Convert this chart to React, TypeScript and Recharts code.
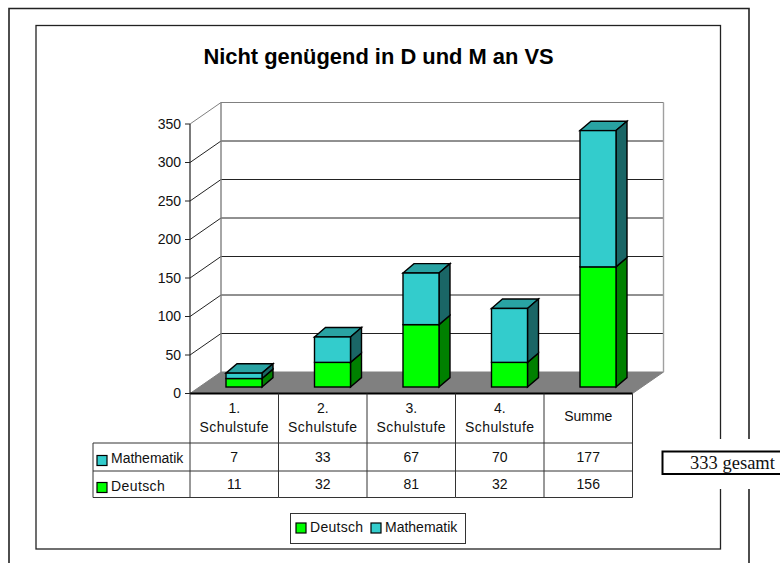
import React from "react";
import { BarChart, Bar, XAxis, YAxis, CartesianGrid, Legend } from "recharts";

const categories = ["1.|Schulstufe", "2.|Schulstufe", "3.|Schulstufe", "4.|Schulstufe", "Summe"];
const deutsch = [11, 32, 81, 32, 156];
const mathematik = [7, 33, 67, 70, 177];
const yTicks = [0, 50, 100, 150, 200, 250, 300, 350];
const title = "Nicht genügend in D und M an VS";
const note = "333 gesamt";

const data = categories.map((c, i) => ({ cat: c, Deutsch: deutsch[i], Mathematik: mathematik[i] }));

const FONT = "'Liberation Sans', Arial, sans-serif";
const GREEN = "#00FF00";
const CYAN = "#33CCCC";
const TABLE = "#333333";
const TOP = 124;
const BOTTOM = 393.5;
const LEFT = 190;
const RIGHT = 632.5;
const DX = 31;
const DY = 21.5;

function GridLine(props: any) {
  const { x1, x2, y1 } = props;
  const isTop = y1 <= TOP + 1;
  const isBottom = y1 >= BOTTOM - 1;
  const c = isTop ? "#808080" : "#222222";
  return (
    <g key={props.key}>
      {isBottom && (
        <polygon
          points={`${x1},${y1} ${x1 + DX},${y1 - DY} ${x2 + DX},${y1 - DY} ${x2},${y1}`}
          fill="#808080"
          stroke="#808080"
        />
      )}
      {isTop && (
        <>
          <line x1={x1 + DX} x2={x1 + DX} y1={y1 - DY} y2={BOTTOM - DY} stroke="#808080" strokeWidth={1.4} />
          <line x1={x2 + DX} x2={x2 + DX} y1={y1 - DY} y2={BOTTOM - DY} stroke="#a0a0a0" strokeWidth={1.4} />
        </>
      )}
      {!isBottom && (
        <>
          <line x1={x1} y1={y1} x2={x1 + DX} y2={y1 - DY} stroke={c} strokeWidth={1} />
          <line x1={x1 + DX} y1={y1 - DY} x2={x2 + DX} y2={y1 - DY} stroke={c} strokeWidth={1} />
        </>
      )}
    </g>
  );
}

function Bar3D(props: any) {
  const { x, y, width, height, fill, side, top } = props;
  const sx = 10;
  const sy = -6.5;
  const dx = 11;
  const dy = 9.4;
  const l = x + sx;
  const t = y + sy;
  const r = l + width;
  const b = t + height;
  const sw = 1.4;
  return (
    <g stroke="#000" strokeWidth={sw} strokeLinejoin="miter">
      {top && <polygon points={`${l},${t} ${l + dx},${t - dy} ${r + dx},${t - dy} ${r},${t}`} fill={top} />}
      <polygon points={`${r},${t} ${r + dx},${t - dy} ${r + dx},${b - dy} ${r},${b}`} fill={side} />
      <rect x={l} y={t} width={width} height={height} fill={fill} />
    </g>
  );
}

function TableTick(props: any) {
  const { x, payload, index } = props;
  const half = 44.25;
  const lines = String(payload.value).split("|");
  const y0 = BOTTOM;
  const rows = [y0 + 49.5, y0 + 77.5, y0 + 104];
  const txt = { fontFamily: FONT, fontSize: 14, fill: "#111" };
  return (
    <g>
      <line x1={x + half} x2={x + half} y1={y0} y2={rows[2]} stroke={TABLE} />
      {rows.map((ry) => (
        <line key={ry} x1={x - half} x2={x + half} y1={ry} y2={ry} stroke={TABLE} />
      ))}
      {lines.length === 2 ? (
        <>
          <text x={x} y={y0 + 19.5} textAnchor="middle" {...txt}>{lines[0]}</text>
          <text x={x} y={y0 + 38.5} textAnchor="middle" letterSpacing={0.4} {...txt}>{lines[1]}</text>
        </>
      ) : (
        <text x={x} y={y0 + 27.5} textAnchor="middle" {...txt}>{lines[0]}</text>
      )}
      <text x={x} y={y0 + 68.5} textAnchor="middle" {...txt}>{mathematik[index]}</text>
      <text x={x} y={y0 + 95.5} textAnchor="middle" {...txt}>{deutsch[index]}</text>
      {index === 0 && (
        <g>
          <line x1={x - half} x2={x - half} y1={y0} y2={rows[2]} stroke={TABLE} />
          <line x1={93} x2={x - half} y1={rows[0]} y2={rows[0]} stroke={TABLE} />
          <line x1={93} x2={x - half} y1={rows[1]} y2={rows[1]} stroke={TABLE} />
          <line x1={93} x2={x - half} y1={rows[2]} y2={rows[2]} stroke={TABLE} />
          <line x1={93} x2={93} y1={rows[0]} y2={rows[2]} stroke={TABLE} />
          <rect x={97} y={455.5} width={10} height={10} fill={CYAN} stroke="#000" strokeWidth={1.2} />
          <text x={111} y={462.5} {...txt}>Mathematik</text>
          <rect x={97} y={482.5} width={10} height={10} fill={GREEN} stroke="#000" strokeWidth={1.2} />
          <text x={111} y={491} letterSpacing={0.4} {...txt}>Deutsch</text>
        </g>
      )}
    </g>
  );
}

function LegendBox(props: any) {
  const items = props.payload || [];
  return (
    <svg width={176} height={31} style={{ display: "block" }}>
      <rect x={0.5} y={0.5} width={175} height={30} fill="#fff" stroke={TABLE} />
      {items.map((it: any, i: number) => {
        const sx = i === 0 ? 6 : 81;
        return (
          <g key={it.value}>
            <rect x={sx} y={10} width={10} height={10} fill={it.color} stroke="#000" strokeWidth={1.2} />
            <text x={sx + 14} y={19} fontFamily={FONT} fontSize={14} fill="#111" letterSpacing={i === 0 ? 0.3 : 0}>{it.value}</text>
          </g>
        );
      })}
    </svg>
  );
}

export default function App() {
  return (
    <div style={{ position: "absolute", left: 0, top: 0, width: 780, height: 563, overflow: "hidden", background: "#fff" }}>
      <svg width={780} height={563} style={{ position: "absolute", left: 0, top: 0 }}>
        <path d="M9 563 V8.5 H749 V563" fill="none" stroke="#222" strokeWidth={1.6} />
        <rect x={36} y={25.5} width={684.5} height={523.5} fill="none" stroke="#222" strokeWidth={1.3} />
        <text x={378.5} y={64} textAnchor="middle" fontFamily={FONT} fontWeight="bold" fontSize={21.9} fill="#000">{title}</text>
      </svg>
      <div style={{ position: "absolute", left: 0, top: 0 }}>
        <BarChart
          width={780}
          height={563}
          data={data}
          margin={{ top: TOP, left: LEFT - 60, right: 780 - RIGHT, bottom: 563 - BOTTOM - 110 }}
          barSize={36}
        >
          <CartesianGrid horizontal={GridLine as any} vertical={false} />
          <XAxis
            dataKey="cat"
            interval={0}
            height={110}
            tick={TableTick as any}
            tickLine={false}
            axisLine={{ stroke: "#000", strokeWidth: 2 }}
          />
          <YAxis
            width={60}
            domain={[0, 350]}
            ticks={yTicks}
            interval={0}
            tickSize={5}
            tickMargin={4}
            tick={{ fontFamily: FONT, fontSize: 14, fill: "#111" }}
            tickLine={{ stroke: "#222" }}
            axisLine={{ stroke: "#222", strokeWidth: 1.2 }}
          />
          <Bar
            dataKey="Deutsch"
            stackId="a"
            fill={GREEN}
            isAnimationActive={false}
            shape={(p: any) => <Bar3D {...p} side="#008000" />}
          />
          <Bar
            dataKey="Mathematik"
            stackId="a"
            fill={CYAN}
            isAnimationActive={false}
            shape={(p: any) => <Bar3D {...p} side="#1A6666" top="#29A3A3" />}
          />
          <Legend
            layout="vertical"
            align="center"
            verticalAlign="middle"
            content={LegendBox as any}
            wrapperStyle={{ left: 290, top: 513, width: 176, height: 31 }}
          />
        </BarChart>
      </div>
      <svg width={780} height={563} style={{ position: "absolute", left: 0, top: 0, pointerEvents: "none" }}>
        <rect x={660} y={439} width={120} height={50} fill="#fff" />
        <rect x={662.5} y={451.5} width={150} height={22.5} fill="#fff" stroke="#000" strokeWidth={2} />
        <text x={732.5} y={469} textAnchor="middle" fontFamily="'Liberation Serif', serif" fontSize={18.5} fill="#111">{note}</text>
      </svg>
    </div>
  );
}
